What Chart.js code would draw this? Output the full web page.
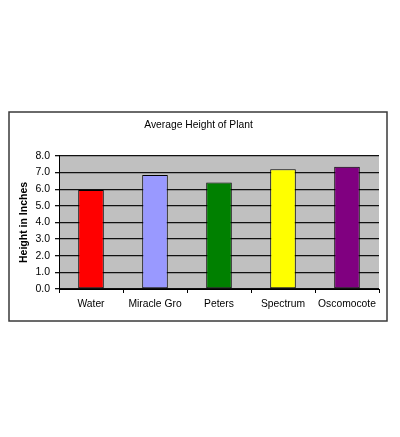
<!DOCTYPE html>
<html>
<head>
<meta charset="utf-8">
<script src="https://cdn.jsdelivr.net/npm/chart.js@4/dist/chart.umd.min.js"></script>
<style>
html,body{margin:0;padding:0;background:#fff;}
#wrap{position:absolute;left:0;top:0;width:400px;height:437px;}
</style>
</head>
<body>
<div id="wrap"><canvas id="c" width="400" height="437"></canvas></div>
<script>
const categories = ["Water", "Miracle Gro", "Peters", "Spectrum", "Oscomocote"];
const heights = [5.95, 6.85, 6.4, 7.2, 7.35];
const barColors = ["#ff0000", "#9999ff", "#008000", "#ffff00", "#800080"];
const yTicks = [0, 1, 2, 3, 4, 5, 6, 7, 8];
const chartTitle = "Average Height of Plant";
const yTitle = "Height in Inches";

const frame = {
  id: 'frame',
  beforeDraw(chart) {
    const ctx = chart.ctx;
    const a = chart.chartArea;
    ctx.save();
    ctx.fillStyle = '#ffffff';
    ctx.fillRect(0, 0, chart.width, chart.height);
    ctx.strokeStyle = '#3a3a3a';
    ctx.lineWidth = 1.5;
    ctx.strokeRect(9, 112, 378, 209);
    ctx.fillStyle = '#c0c0c0';
    ctx.fillRect(a.left, a.top, a.right - a.left, a.bottom - a.top);
    ctx.restore();
  }
};

Chart.defaults.font.family = '"Liberation Sans", Arial, sans-serif';
Chart.defaults.font.size = 10;
Chart.defaults.color = '#000';

new Chart(document.getElementById('c'), {
  type: 'bar',
  data: {
    labels: categories,
    datasets: [{
      data: heights,
      backgroundColor: barColors,
      borderColor: '#000',
      borderWidth: 1,
      borderSkipped: false,
      barPercentage: 0.4,
      categoryPercentage: 1
    }]
  },
  options: {
    responsive: false,
    animation: false,
    devicePixelRatio: 1,
    layout: { padding: { left: 18, right: 21, top: 119, bottom: 121 } },
    plugins: {
      legend: { display: false },
      tooltip: { enabled: false },
      title: {
        display: true,
        text: chartTitle,
        color: '#000',
        font: { size: 10.3, weight: 'normal' },
        padding: { top: 0, bottom: 24.6 }
      }
    },
    scales: {
      x: {
        afterFit(s) { s.height = 27; },
        grid: {
          display: true,
          drawOnChartArea: false,
          offset: true,
          tickLength: 4,
          color: '#000'
        },
        border: { display: true, color: '#000', width: 1 },
        ticks: { padding: 5, color: '#000', font: { size: 10.3 }, maxRotation: 0, minRotation: 0, autoSkip: false }
      },
      y: {
        min: 0,
        max: 8,
        afterFit(s) { s.width = 41; },
        afterBuildTicks(s) { s.ticks = yTicks.map(v => ({ value: v })); },
        title: {
          display: true,
          text: yTitle,
          color: '#000',
          font: { size: 10.5, weight: 'bold' },
          padding: { top: 0, bottom: 0 }
        },
        grid: { color: '#111', lineWidth: 1.3, tickLength: 4 },
        border: { display: true, color: '#000', width: 1 },
        ticks: {
          padding: 5,
          color: '#000',
          font: { size: 10.5 },
          callback: v => Number(v).toFixed(1)
        }
      }
    }
  },
  plugins: [frame]
});
</script>
</body>
</html>
